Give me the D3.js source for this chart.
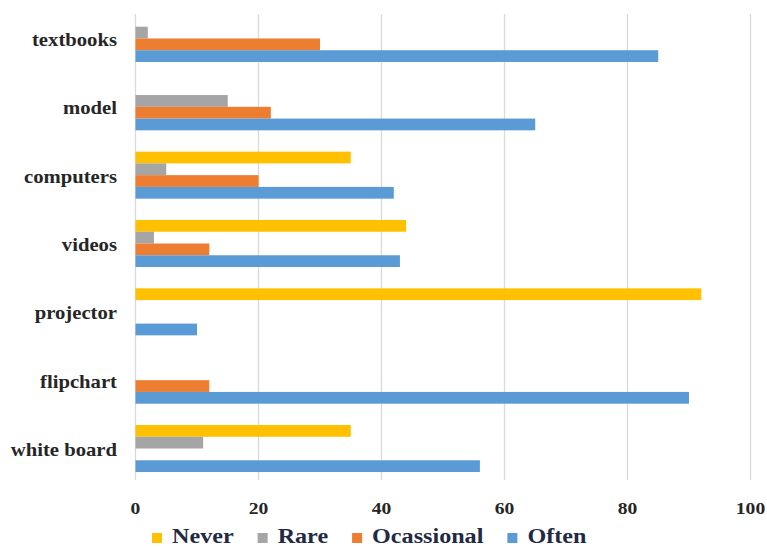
<!DOCTYPE html>
<html><head><meta charset="utf-8">
<script src="https://cdn.jsdelivr.net/npm/d3@7"></script>
<style>html,body{margin:0;padding:0;background:#fff;}svg{display:block;}</style>
</head><body>
<svg id="c" width="767" height="547"></svg>
<script>
const categories = ["textbooks","model","computers","videos","projector","flipchart","white board"];
const seriesNames = ["Never","Rare","Ocassional","Often"];
const never      = [0, 0, 35, 44, 92, 0, 35];
const rare       = [2, 15, 5, 3, 0, 0, 11];
const ocassional = [30, 22, 20, 12, 0, 12, 0];
const often      = [85, 65, 42, 43, 10, 90, 56];
const xTicks = [0, 20, 40, 60, 80, 100];
const colors = ["#FFC000","#A5A5A5","#ED7D31","#5B9BD5"];

const values = [never, rare, ocassional, often];
const svg = d3.select("#c");
const FONT = "'Liberation Serif','Times New Roman',serif";
const SX = 1.15;

const x = d3.scaleLinear().domain([0,100]).range([135.5,750.5]);
const y = d3.scaleBand().domain(categories).range([5.8,484.2]).paddingInner(0.312).paddingOuter(0.156);
const yInner = d3.scaleBand().domain(seriesNames).range([0,y.bandwidth()]);
const plotTop = 14, plotBottom = 480;

// gridlines
svg.append("g").selectAll("line").data(xTicks).join("line")
  .attr("x1",d=>x(d)).attr("x2",d=>x(d)).attr("y1",plotTop).attr("y2",plotBottom)
  .attr("stroke","#d9d9d9").attr("stroke-width",1.3);

// bars
const groups = svg.append("g").selectAll("g").data(categories).join("g")
  .attr("transform",c=>`translate(0,${y(c)-1.5})`);
groups.selectAll("rect").data((c,i)=>seriesNames.map((s,j)=>({s,j,v:values[j][i]})))
  .join("rect")
  .attr("x",x(0)).attr("y",d=>yInner(d.s)).attr("height",yInner.bandwidth())
  .attr("width",d=>x(d.v)-x(0)).attr("fill",d=>colors[d.j]);

// category labels
const cl = svg.append("g").selectAll("g").data(categories).join("g")
  .attr("transform",c=>`translate(117,${y(c)+y.bandwidth()/2+6}) scale(${SX},1)`);
cl.append("text").text(c=>c).attr("text-anchor","end")
  .attr("font-family",FONT).attr("font-weight","bold").attr("font-size",18).attr("fill","#262626");

// x axis tick labels
const xa = svg.append("g").selectAll("g").data(xTicks).join("g")
  .attr("transform",d=>`translate(${x(d)},514) scale(${SX},1)`);
xa.append("text").text(d=>d).attr("text-anchor","middle")
  .attr("font-family",FONT).attr("font-weight","bold").attr("font-size",17).attr("fill","#262626");

// legend
let lx = 152;
seriesNames.forEach((s,j)=>{
  svg.append("rect").attr("x",lx).attr("y",533).attr("width",10).attr("height",10).attr("fill",colors[j]);
  const g = svg.append("g").attr("transform",`translate(${lx+20},543) scale(${SX},1)`);
  const t = g.append("text").text(s).attr("font-family",FONT).attr("font-weight","bold")
    .attr("font-size",21).attr("fill","#1f2a44");
  const w = t.node().getComputedTextLength()*SX;
  lx = lx + 20 + w + 24;
});
</script>
</body></html>
